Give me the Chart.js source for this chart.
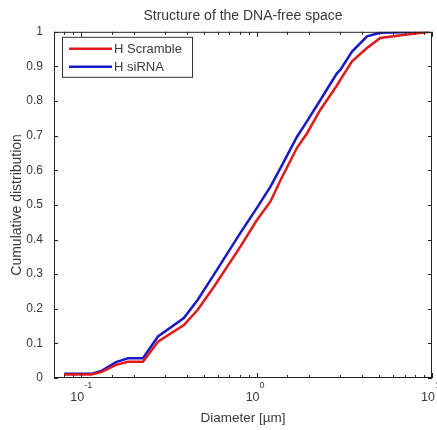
<!DOCTYPE html>
<html>
<head>
<meta charset="utf-8">
<script src="https://cdn.jsdelivr.net/npm/chart.js@4/dist/chart.umd.min.js"></script>
<style>
  html, body { margin: 0; padding: 0; background: #fff; }
</style>
</head>
<body>
<canvas id="cdfChart" width="437" height="430"></canvas>
<script>
// Diameter samples (µm) and cumulative distributions for both conditions
const diameters   = [0.08, 0.114, 0.13, 0.158, 0.185, 0.225, 0.274, 0.385, 0.462, 0.57, 0.81, 1.0, 1.2, 1.37, 1.7, 1.94, 2.31, 2.52, 2.87, 3.0, 3.5, 4.26, 5.07, 6.84, 9.74];
const scrambleCum = [0.010, 0.010, 0.017, 0.038, 0.047, 0.047, 0.105, 0.153, 0.197, 0.263, 0.380, 0.455, 0.510, 0.572, 0.665, 0.707, 0.775, 0.803, 0.845, 0.861, 0.915, 0.953, 0.982, 0.991, 1.000];
const sirnaCum    = [0.012, 0.012, 0.020, 0.046, 0.057, 0.057, 0.120, 0.173, 0.226, 0.298, 0.420, 0.490, 0.553, 0.607, 0.697, 0.742, 0.803, 0.834, 0.880, 0.890, 0.943, 0.987, 0.997, 0.999, 1.000];

const seriesNames = ['H Scramble', 'H siRNA'];
const yTicks = [0, 0.1, 0.2, 0.3, 0.4, 0.5, 0.6, 0.7, 0.8, 0.9, 1];
const xMin = 0.07;
const xMax = 10;

const FONT = 'Liberation Sans, Arial, Helvetica, sans-serif';
const TEXT = '#3a3a3a';

function isDecade(v) {
    const e = Math.log10(v);
    return Math.abs(e - Math.round(e)) < 1e-6;
}

// Box around the plot with inward ticks, plus exponents for the decade labels
const boxTicks = {
    id: 'boxTicks',
    afterDatasetsDraw(chart) {
        const { ctx, chartArea: a, scales: { x, y } } = chart;
        ctx.save();
        ctx.strokeStyle = '#222';
        ctx.lineWidth = 1;
        ctx.strokeRect(a.left + 0.5, a.top + 0.5, a.right - a.left - 1, a.bottom - a.top - 1);
        ctx.beginPath();
        x.ticks.forEach(t => {
            const px = Math.round(x.getPixelForValue(t.value)) + 0.5;
            const len = isDecade(t.value) ? 5 : 3;
            ctx.moveTo(px, a.bottom); ctx.lineTo(px, a.bottom - len);
            ctx.moveTo(px, a.top); ctx.lineTo(px, a.top + len);
        });
        y.ticks.forEach(t => {
            const py = Math.round(y.getPixelForValue(t.value)) + 0.5;
            ctx.moveTo(a.left, py); ctx.lineTo(a.left + 4, py);
            ctx.moveTo(a.right, py); ctx.lineTo(a.right - 4, py);
        });
        ctx.stroke();

        // superscript exponent after each "10"
        ctx.fillStyle = TEXT;
        ctx.font = '9px ' + FONT;
        ctx.textBaseline = 'alphabetic';
        ctx.textAlign = 'left';
        x.ticks.forEach(t => {
            if (!isDecade(t.value)) return;
            const e = Math.round(Math.log10(t.value));
            const px = x.getPixelForValue(t.value);
            ctx.fillText(e < 0 ? '-' + (-e) : String(e), px + 3, a.bottom + 10);
        });
        ctx.restore();
    }
};

// Boxed legend in the upper-left corner of the plot
const boxLegend = {
    id: 'boxLegend',
    afterDraw(chart) {
        const { ctx, chartArea: a } = chart;
        const x0 = a.left + 8, y0 = a.top + 5, w = 130, h = 40;
        ctx.save();
        ctx.fillStyle = '#fff';
        ctx.fillRect(x0, y0, w, h);
        ctx.strokeStyle = '#333';
        ctx.lineWidth = 1;
        ctx.strokeRect(x0 + 0.5, y0 + 0.5, w, h);
        ctx.font = '13px ' + FONT;
        ctx.textBaseline = 'middle';
        chart.data.datasets.forEach((ds, i) => {
            const yy = y0 + 12 + i * 18;
            ctx.strokeStyle = ds.borderColor;
            ctx.lineWidth = 2.5;
            ctx.beginPath();
            ctx.moveTo(x0 + 7, yy);
            ctx.lineTo(x0 + 50, yy);
            ctx.stroke();
            ctx.fillStyle = TEXT;
            ctx.fillText(ds.label, x0 + 52, yy + 1);
        });
        ctx.restore();
    }
};

const ctx = document.getElementById('cdfChart').getContext('2d');
new Chart(ctx, {
    type: 'line',
    data: {
        datasets: [
            {
                label: seriesNames[0],
                data: diameters.map((d, i) => ({ x: d, y: scrambleCum[i] })),
                borderColor: 'rgb(225, 25, 25)',
                borderWidth: 2.5,
                pointRadius: 0,
                tension: 0
            },
            {
                label: seriesNames[1],
                data: diameters.map((d, i) => ({ x: d, y: sirnaCum[i] })),
                borderColor: 'rgb(25, 25, 200)',
                borderWidth: 2.5,
                pointRadius: 0,
                tension: 0
            }
        ]
    },
    options: {
        responsive: false,
        animation: false,
        devicePixelRatio: 1,
        layout: { padding: { left: 0, right: 5, top: 0, bottom: 4 } },
        plugins: {
            legend: { display: false },
            tooltip: { enabled: false },
            title: {
                display: true,
                fullSize: false,
                text: 'Structure of the DNA-free space',
                color: TEXT,
                font: { family: FONT, size: 14, weight: 'normal' },
                padding: { top: 8, bottom: 7 }
            }
        },
        scales: {
            x: {
                type: 'logarithmic',
                min: xMin,
                max: xMax,
                grid: { display: false, drawTicks: false },
                border: { display: false },
                ticks: {
                    autoSkip: false,
                    maxRotation: 0,
                    padding: 12,
                    labelOffset: -4,
                    color: TEXT,
                    font: { family: FONT, size: 12.5 },
                    callback: v => isDecade(v) ? '10' : ''
                },
                title: {
                    display: true,
                    text: 'Diameter [µm]',
                    color: TEXT,
                    font: { family: FONT, size: 13.5 },
                    padding: { top: 3, bottom: 0 }
                },
                afterFit(scale) {
                    scale.height = 48;
                    scale.paddingRight = 0;
                    scale.paddingLeft = 0;
                }
            },
            y: {
                min: 0,
                max: 1,
                afterBuildTicks(scale) {
                    scale.ticks = yTicks.map(v => ({ value: v }));
                },
                grid: { display: false, drawTicks: false },
                border: { display: false },
                ticks: {
                    padding: 11,
                    color: TEXT,
                    font: { family: FONT, size: 12 },
                    callback: v => String(v)
                },
                title: {
                    display: true,
                    text: 'Cumulative distribution',
                    color: TEXT,
                    font: { family: FONT, size: 14 },
                    padding: { top: 9, bottom: 2 }
                },
                afterFit(scale) {
                    scale.width = 54;
                    scale.paddingTop = 0;
                    scale.paddingBottom = 0;
                }
            }
        }
    },
    plugins: [boxTicks, boxLegend]
});
</script>
</body>
</html>
